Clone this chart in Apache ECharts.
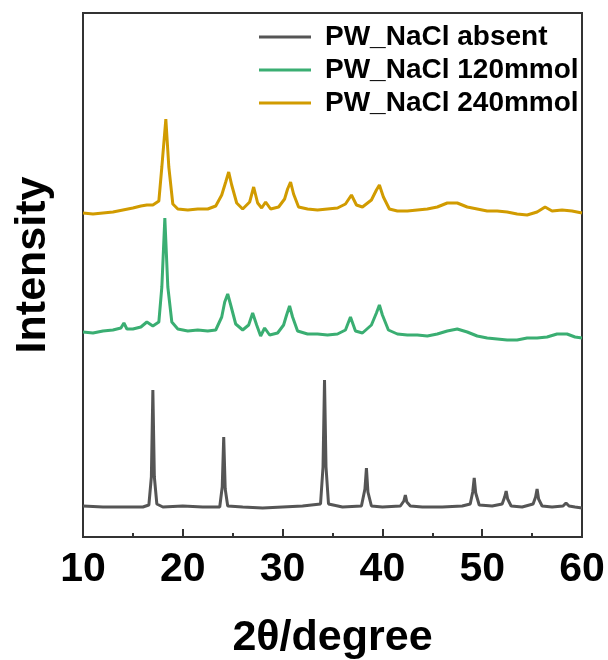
<!DOCTYPE html>
<html lang="en">
<head>
    <meta charset="UTF-8">
    <title>XRD</title>
    <script src="https://cdn.jsdelivr.net/npm/echarts@6/dist/echarts.min.js"></script>
    <style>
        html, body { margin: 0; padding: 0; background: #fff; }
        #chart { width: 608px; height: 660px; }
    </style>
</head>
<body>
<div id="chart"></div>
<script>
    // 2theta / intensity (arbitrary units, curves already offset)
    var absentX = [10, 12, 14, 16, 16.6, 16.85, 17.0, 17.15, 17.4, 18, 20, 22, 23.7, 23.95, 24.1, 24.25, 24.5, 26, 28, 30, 32, 33.8, 34.05, 34.2, 34.35, 34.6, 36, 37.9, 38.25, 38.4, 38.55, 38.9, 40, 41.8, 42.15, 42.3, 42.45, 42.8, 44, 46, 48, 48.8, 49.05, 49.2, 49.35, 49.7, 51, 52.0, 52.25, 52.4, 52.55, 52.9, 54, 55.1, 55.35, 55.5, 55.65, 56, 57, 58.1, 58.4, 58.7, 59.3, 60];
    var absentY = [31, 30, 30, 30, 32, 60, 147, 60, 33, 30, 31, 30, 30, 50, 100, 48, 31, 30, 29, 30, 31, 33, 70, 157, 70, 33, 30, 31, 48, 69, 45, 31, 30, 31, 36, 42, 35, 31, 30, 30, 31, 33, 45, 59, 44, 32, 31, 33, 40, 46, 38, 31, 30, 33, 40, 48, 38, 31, 30, 31, 34, 31, 30, 29];

    var mmol120X = [10, 11, 12, 13, 13.8, 14.1, 14.4, 15, 15.8, 16.4, 17.0, 17.6, 17.9, 18.2, 18.5, 18.9, 19.5, 20.5, 21.5, 22.5, 23.3, 23.9, 24.2, 24.5, 24.8, 25.3, 26.0, 26.6, 27.0, 27.4, 27.8, 28.2, 28.7, 29.5, 30.1, 30.4, 30.7, 31.0, 31.5, 32.5, 33.5, 34.5, 35.5, 36.3, 36.8, 37.3, 38.0, 38.9, 39.4, 39.7, 40.0, 40.6, 41.5, 42.5, 43.5, 44.5, 45.5, 46.5, 47.5, 48.5, 49.5, 50.5, 51.5, 52.5, 53.5, 54.5, 55.5, 56.5, 57.5, 58.5, 59.3, 60];
    var mmol120Y = [205, 204, 206, 207, 209, 214, 208, 208, 210, 215, 211, 215, 250, 319, 250, 215, 208, 206, 207, 206, 207, 220, 235, 243, 232, 213, 207, 212, 224, 212, 201, 209, 202, 204, 212, 222, 231, 220, 206, 203, 203, 202, 203, 207, 220, 206, 204, 212, 224, 232, 222, 207, 203, 202, 202, 201, 203, 206, 208, 205, 201, 199, 198, 197, 197, 199, 199, 200, 203, 203, 200, 199];

    var mmol240X = [10, 11, 12, 13, 14, 15, 15.8, 16.4, 17.0, 17.6, 17.9, 18.3, 18.6, 19.0, 19.5, 20.5, 21.5, 22.5, 23.3, 23.9, 24.3, 24.6, 24.9, 25.4, 26.0, 26.7, 27.1, 27.5, 27.9, 28.3, 28.8, 29.6, 30.2, 30.5, 30.8, 31.1, 31.6, 32.5, 33.5, 34.5, 35.5, 36.3, 36.9, 37.4, 38.0, 38.9, 39.4, 39.7, 40.1, 40.7, 41.5, 42.5, 43.5, 44.5, 45.5, 46.5, 47.5, 48.5, 49.5, 50.5, 51.5, 52.5, 53.5, 54.5, 55.5, 56.3, 57, 58, 59, 60];
    var mmol240Y = [324, 323, 324, 325, 327, 329, 331, 332, 332, 336, 370, 418, 370, 333, 328, 327, 328, 328, 331, 342, 355, 365, 352, 334, 328, 335, 350, 334, 329, 335, 328, 330, 338, 348, 355, 343, 330, 328, 327, 328, 329, 333, 342, 332, 330, 337, 347, 352, 340, 328, 326, 326, 327, 328, 330, 334, 334, 330, 328, 326, 326, 325, 323, 322, 325, 330, 326, 327, 326, 324];

    var seriesNames = ['PW_NaCl absent', 'PW_NaCl 120mmol', 'PW_NaCl 240mmol'];
    var seriesColors = ['#555555', '#3aae72', '#d19b00'];
    var xTicks = [10, 20, 30, 40, 50, 60];

    function pairs(xs, ys) {
        return xs.map(function (x, i) { return [x, ys[i]]; });
    }

    var font = 'Liberation Sans, Arial, sans-serif';
    var chart = echarts.init(document.getElementById('chart'));

    var allData = [pairs(absentX, absentY), pairs(mmol120X, mmol120Y), pairs(mmol240X, mmol240Y)];

    var option = {
        animation: false,
        backgroundColor: '#ffffff',
        grid: {
            left: 83, right: 26, top: 13, bottom: 123,
            outerBoundsMode: 'none',
            containLabel: false,
            show: true, borderColor: '#333333', borderWidth: 2
        },
        legend: {
            orient: 'vertical',
            left: 254, top: 18,
            icon: 'rect',
            itemWidth: 52, itemHeight: 3, itemGap: 5,
            data: seriesNames,
            textStyle: { fontFamily: font, fontWeight: 'bold', fontSize: 28, color: '#000', padding: [0, 0, 0, 9] }
        },
        xAxis: {
            type: 'value',
            min: xTicks[0], max: xTicks[xTicks.length - 1], interval: 10,
            name: '2θ/degree',
            nameLocation: 'middle',
            nameGap: 80,
            nameTextStyle: { fontFamily: font, fontWeight: 'bold', fontSize: 43, color: '#000' },
            axisLine: { lineStyle: { color: '#333333', width: 2 } },
            axisTick: { inside: true, length: 8, lineStyle: { color: '#333333', width: 2 } },
            minorTick: { show: true, splitNumber: 2, length: 4, lineStyle: { color: '#333333', width: 2 } },
            axisLabel: { fontFamily: font, fontWeight: 'bold', fontSize: 41, color: '#000', margin: 12 },
            splitLine: { show: false }
        },
        yAxis: {
            type: 'value',
            min: 0, max: 524,
            name: 'Intensity',
            nameLocation: 'middle',
            nameGap: 28,
            nameTextStyle: { fontFamily: font, fontWeight: 'bold', fontSize: 43, color: '#000', padding: [0, 0, 0, 20] },
            axisLine: { show: true, lineStyle: { color: '#333333', width: 2 } },
            axisTick: { show: false },
            axisLabel: { show: false },
            splitLine: { show: false }
        },
        series: allData.map(function (d, i) {
            return {
                name: seriesNames[i],
                type: 'line',
                data: d,
                symbol: 'none',
                color: seriesColors[i],
                lineStyle: { color: seriesColors[i], width: 3 }
            };
        })
    };
    chart.setOption(option);
</script>
</body>
</html>
